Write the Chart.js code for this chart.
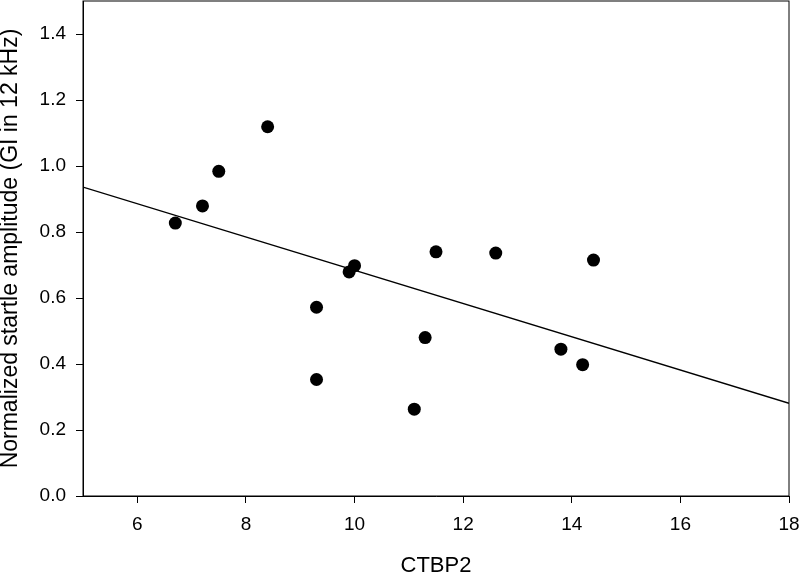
<!DOCTYPE html>
<html>
  <head>
    <script src="https://cdn.jsdelivr.net/npm/chart.js"></script>
    <style>
      body { margin: 0; background: #ffffff; }
    </style>
  </head>

  <body>
    <canvas id="scatter" width="800" height="575"></canvas>
  </body>

  <script>
    // CTBP2 vs normalized startle amplitude
    var ctbp2 = [6.7, 7.2, 7.5, 8.4, 9.3, 9.3, 9.9, 10.0, 11.1, 11.3, 11.5, 12.6, 13.8, 14.2, 14.4];
    var amplitude = [0.827, 0.879, 0.984, 1.119, 0.572, 0.353, 0.679, 0.698, 0.263, 0.48, 0.74, 0.736, 0.445, 0.398, 0.715];

    // fitted line end points
    var fitX = [5, 18];
    var fitY = [0.936, 0.281];

    var xTicks = [6, 8, 10, 12, 14, 16, 18];
    var yTicks = [0.0, 0.2, 0.4, 0.6, 0.8, 1.0, 1.2, 1.4];

    var points = ctbp2.map((x, i) => ({ x: x, y: amplitude[i] }));
    var fitLine = fitX.map((x, i) => ({ x: x, y: fitY[i] }));

    // box around the plot area
    const frame = {
      id: "frame",
      afterDraw(chart) {
        const a = chart.chartArea;
        const c = chart.ctx;
        c.save();
        c.strokeStyle = "#000";
        c.lineWidth = 1;
        c.strokeRect(a.left, a.top, a.right - a.left, a.bottom - a.top);
        c.restore();
      },
    };

    const ctx = document.getElementById("scatter").getContext("2d");

    const chart = new Chart(ctx, {
      type: "scatter",
      data: {
        datasets: [
          {
            label: "data",
            data: points,
            backgroundColor: "#000",
            borderWidth: 0,
            pointRadius: 6.5,
            pointHoverRadius: 6.5,
          },
          {
            type: "line",
            label: "fit",
            data: fitLine,
            borderColor: "#000",
            borderWidth: 1.4,
            pointRadius: 0,
            fill: false,
          },
        ],
      },
      options: {
        responsive: false,
        animation: false,
        layout: { autoPadding: false, padding: { top: 1, right: 11, bottom: 0, left: 0 } },
        plugins: {
          legend: { display: false },
          tooltip: { enabled: false },
        },
        scales: {
          x: {
            type: "linear",
            min: 5,
            max: 18,
            afterBuildTicks: (s) => { s.ticks = xTicks.map((v) => ({ value: v })); },
            afterFit: (s) => {
              s.height = 79;
              s.paddingLeft = 0;
              s.paddingRight = 0;
            },
            grid: { drawOnChartArea: false, drawTicks: true, tickLength: 7, color: "#000" },
            border: { display: true, color: "#000", width: 1 },
            ticks: {
              color: "#000",
              padding: 10,
              maxRotation: 0,
              font: { family: "Liberation Sans", size: 19 },
            },
            title: {
              display: true,
              text: "CTBP2",
              color: "#000",
              padding: { top: 0, bottom: 0 },
              font: { family: "Liberation Sans", size: 22, lineHeight: 0.8 },
            },
          },
          y: {
            type: "linear",
            min: 0,
            max: 1.5,
            afterBuildTicks: (s) => { s.ticks = yTicks.map((v) => ({ value: v })); },
            afterFit: (s) => {
              s.width = 83;
              s.paddingTop = 0;
              s.paddingBottom = 0;
            },
            grid: { drawOnChartArea: false, drawTicks: true, tickLength: 7, color: "#000" },
            border: { display: true, color: "#000", width: 1 },
            ticks: {
              color: "#000",
              padding: 10,
              font: { family: "Liberation Sans", size: 19 },
              callback: (v) => v.toFixed(1),
            },
            title: {
              display: true,
              text: "Normalized startle amplitude (GI in 12 kHz)",
              color: "#000",
              padding: { top: 0, bottom: 0 },
              font: { family: "Liberation Sans", size: 23, lineHeight: 0.9 },
            },
          },
        },
      },
      plugins: [frame],
    });
  </script>
</html>
